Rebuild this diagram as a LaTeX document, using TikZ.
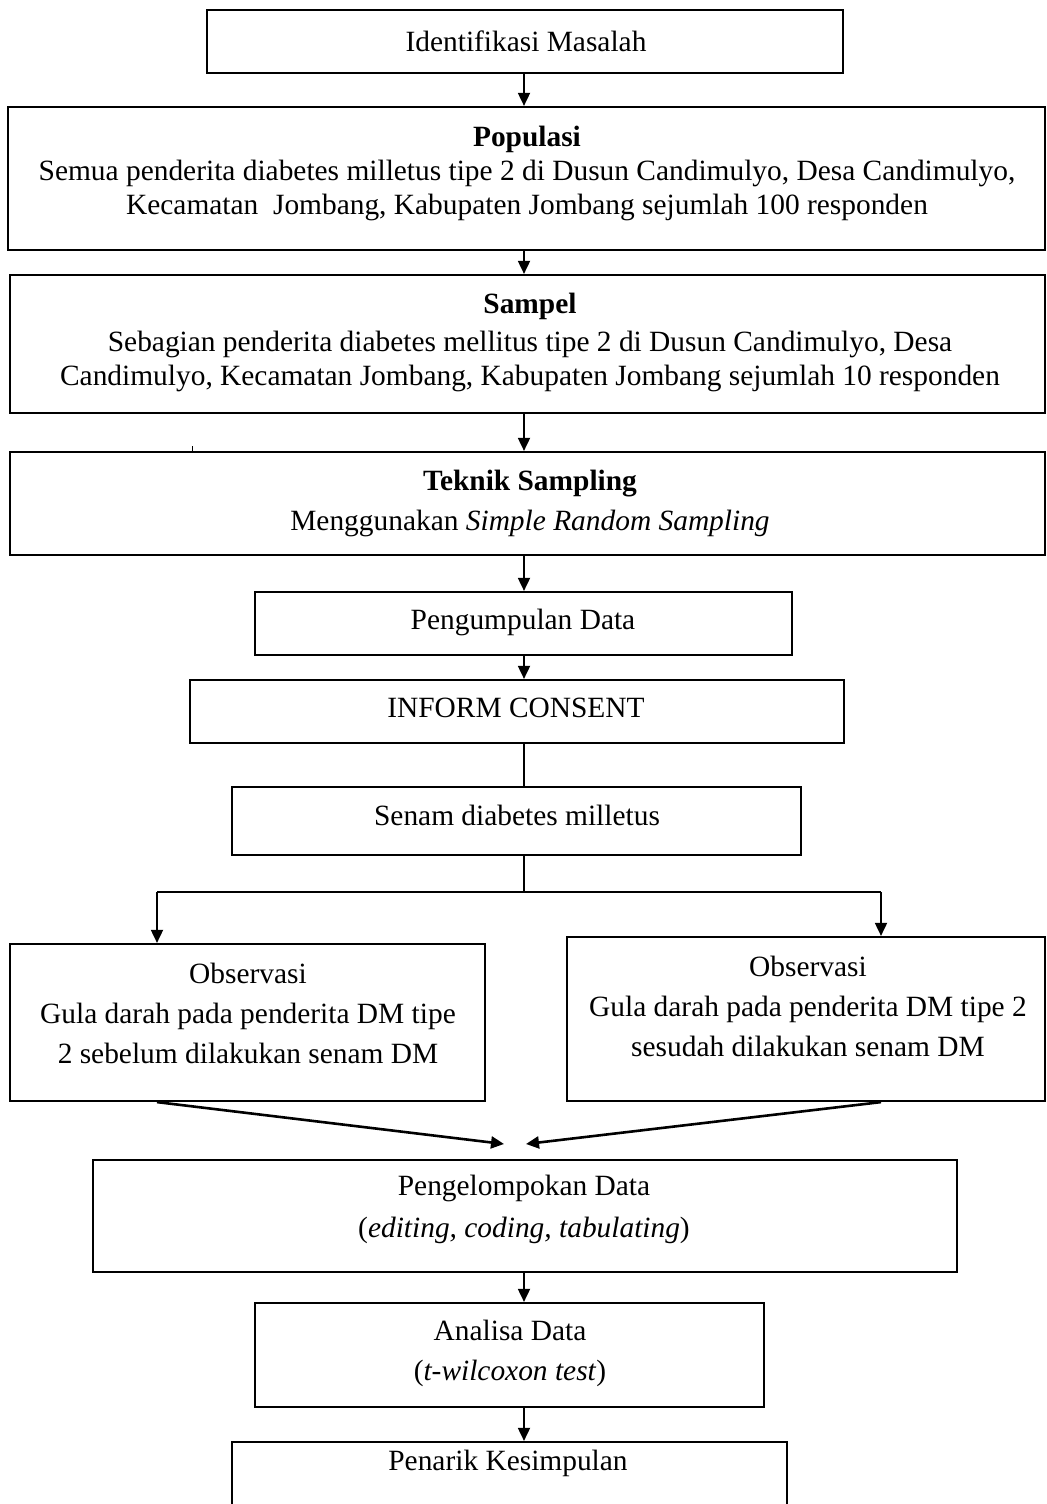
\documentclass[tikz,border=0pt]{standalone}
\usepackage{fontspec}
\setmainfont{Liberation Serif}
\usetikzlibrary{arrows.meta}
\begin{document}
\begin{tikzpicture}[x=0.5pt,y=-0.5pt,
  box/.style={draw,line width=1.1pt,inner sep=0pt,rectangle},
  txt/.style={inner sep=0pt,align=center,font=\fontsize{14.7}{17}\selectfont},
  txtw/.style={inner sep=0pt,align=center,font=\fontsize{14.7}{20}\selectfont},
  arr/.style={line width=0.9pt,-{Triangle[length=6.5pt,width=6pt]}},
  arrb/.style={line width=1.3pt,-{Triangle[length=6.5pt,width=6pt]}},
  ln/.style={line width=0.9pt}]
\useasboundingbox (0,0) rectangle (1046,1504);
\coordinate (sp) at (524,0);
% boxes
\node[box,minimum width=318pt,minimum height=31.5pt] (idm) at (525,41.5) {};
\node[box,minimum width=518.5pt,minimum height=71.5pt] (pop) at (526.5,178.5) {};
\node[box,minimum width=517.5pt,minimum height=69pt] (sam) at (527.5,344) {};
\node[box,minimum width=517.5pt,minimum height=51.5pt] (tek) at (527.5,503.5) {};
\node[box,minimum width=268.5pt,minimum height=31.5pt] (pen) at (523.5,623.5) {};
\node[box,minimum width=327pt,minimum height=31.5pt] (inf) at (517,711.5) {};
\node[box,minimum width=284.5pt,minimum height=34pt] (sen) at (516.5,821) {};
\node[box,minimum width=237.5pt,minimum height=78.5pt] (obl) at (247.5,1022.5) {};
\node[box,minimum width=239pt,minimum height=82pt] (obr) at (806,1019) {};
\node[box,minimum width=432pt,minimum height=56pt] (kel) at (525,1216) {};
\node[box,minimum width=254.5pt,minimum height=52pt] (ana) at (509.5,1355) {};
\node[box,minimum width=277.5pt,minimum height=40pt] (tar) at (509.5,1482) {};
% texts
\node[txt] (t1) at (526,41) {Identifikasi Masalah};
\node[txt] (t2) at (527,173.5) {\textbf{Populasi}\\Semua penderita diabetes milletus tipe 2 di Dusun Candimulyo, Desa Candimulyo,\\Kecamatan\ \ Jombang, Kabupaten Jombang sejumlah 100 responden};
\node[txt] (t3) at (530,342.5) {\textbf{Sampel}\\[2pt]Sebagian penderita diabetes mellitus tipe 2 di Dusun Candimulyo, Desa\\Candimulyo, Kecamatan Jombang, Kabupaten Jombang sejumlah 10 responden};
\node[txt] (t4) at (530,503) {\textbf{Teknik Sampling}\\[3pt]Menggunakan \textit{Simple Random Sampling}};
\node[txt] (t5) at (523,622) {Pengumpulan Data};
\node[txt] (t6) at (516,708) {INFORM CONSENT};
\node[txt] (t7) at (517,815) {Senam diabetes milletus};
\node[txtw] (t8) at (248,1013) {Observasi\\Gula darah pada penderita DM tipe\\2 sebelum dilakukan senam DM};
\node[txtw] (t9) at (808,1006) {Observasi\\Gula darah pada penderita DM tipe 2\\sesudah dilakukan senam DM};
\node[txt] (t10) at (524,1209) {Pengelompokan Data\\[4pt](\textit{editing, coding, tabulating})};
\node[txtw] (t11) at (510,1353) {Analisa Data\\(\textit{t-wilcoxon test})};
\node[txt] (t12) at (508,1463) {Penarik Kesimpulan};
% connectors
\draw[arr] (idm.south -| sp) -- (pop.north -| sp);
\draw[arr] (pop.south -| sp) -- (sam.north -| sp);
\draw[arr] (sam.south -| sp) -- (tek.north -| sp);
\draw[arr] (tek.south -| sp) -- (pen.north -| sp);
\draw[arr] (pen.south -| sp) -- (inf.north -| sp);
\draw[ln] (inf.south -| sp) -- (sen.north -| sp);
\coordinate (br) at (524,892);
\coordinate (bl) at (157,892);
\coordinate (brr) at (881,892);
\draw[ln] (sen.south -| sp) -- (br);
\draw[ln] (bl) -- (brr);
\draw[arr] (bl) -- (obl.north -| bl);
\draw[arr] (brr) -- (obr.north -| brr);
\coordinate (cl) at (504,1144);
\coordinate (cr) at (526,1144);
\draw[arrb] (obl.south -| bl) -- (cl);
\draw[arrb] (obr.south -| brr) -- (cr);
\draw[arr] (kel.south -| sp) -- (ana.north -| sp);
\draw[arr] (ana.south -| sp) -- (tar.north -| sp);
\coordinate (tk1) at (192,446);
\coordinate (tk2) at (192,452);
\draw[line width=0.4pt] (tk1) -- (tk2);
\end{tikzpicture}
\end{document}
